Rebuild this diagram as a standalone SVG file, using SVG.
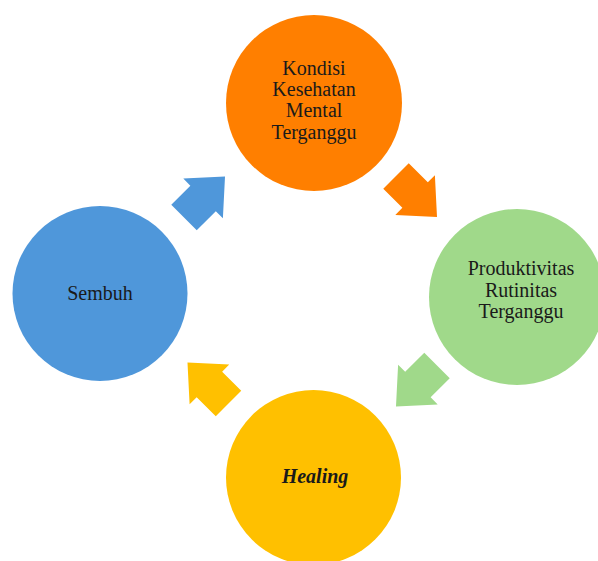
<svg xmlns="http://www.w3.org/2000/svg" width="598" height="561" viewBox="0 0 598 561">
<defs>
<style>
.t{font-family:"Liberation Serif","Times New Roman",serif;font-size:20px;fill:#1a1a1a;text-anchor:middle}
.hb{font-weight:bold;font-style:italic}
</style>
<path id="arr" d="M0,-18 L27,-18 L27,-28 L58,0 L27,28 L27,18 L0,18 Z"/>
</defs>
<rect width="598" height="561" fill="#ffffff"/>
<g id="connectors">
<use href="#arr" fill="#4F97DA" transform="translate(184,217.5) rotate(-45)"/>
<use href="#arr" fill="#FF7F00" transform="translate(396,176) rotate(45)"/>
<use href="#arr" fill="#A0D98A" transform="translate(437,365.5) rotate(135)"/>
<use href="#arr" fill="#FFC000" transform="translate(228.5,403.5) rotate(-135)"/>
</g>
<g id="node-kondisi">
<circle cx="314" cy="103" r="88" fill="#FF7F00"/>
<text class="t" x="314" y="75">Kondisi</text>
<text class="t" x="314" y="96">Kesehatan</text>
<text class="t" x="314" y="117">Mental</text>
<text class="t" x="314" y="139">Terganggu</text>
</g>
<g id="node-produktivitas">
<circle cx="517" cy="297" r="88" fill="#A0D98A"/>
<text class="t" x="521" y="275">Produktivitas</text>
<text class="t" x="521" y="297">Rutinitas</text>
<text class="t" x="521" y="318">Terganggu</text>
</g>
<g id="node-healing">
<circle cx="313.5" cy="477.5" r="87.5" fill="#FFC000"/>
<text class="t hb" x="315" y="483">Healing</text>
</g>
<g id="node-sembuh">
<circle cx="100" cy="293.5" r="87.5" fill="#4F97DA"/>
<text class="t" x="100" y="300">Sembuh</text>
</g>
</svg>
